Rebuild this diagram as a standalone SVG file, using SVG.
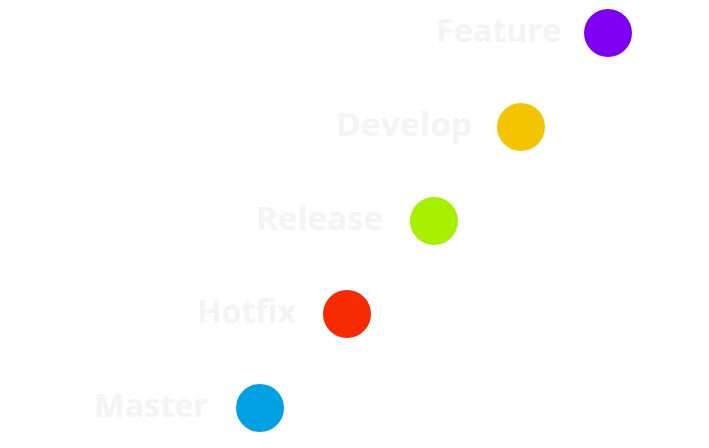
<svg xmlns="http://www.w3.org/2000/svg" width="709" height="448" viewBox="0 0 709 448">
<style>
.lbl{font-family:"Open Sans","Noto Sans","DejaVu Sans",sans-serif;font-weight:700;font-size:33px;fill:#f4f4f4;text-anchor:end}
</style>
<rect width="709" height="448" fill="#ffffff"/>
<g id="connectors"></g>
<g id="feature"><text class="lbl" x="561" y="42" textLength="125" lengthAdjust="spacingAndGlyphs">Feature</text><circle cx="608" cy="33" r="24" fill="#7f00f0"/></g>
<g id="develop"><text class="lbl" x="472" y="136" textLength="136" lengthAdjust="spacingAndGlyphs">Develop</text><circle cx="521" cy="127" r="24" fill="#f4c400"/></g>
<g id="release"><text class="lbl" x="383" y="230" textLength="127" lengthAdjust="spacingAndGlyphs">Release</text><circle cx="434" cy="221" r="24" fill="#a6f000"/></g>
<g id="hotfix"><text class="lbl" x="296" y="323" textLength="99" lengthAdjust="spacingAndGlyphs">Hotfix</text><circle cx="347" cy="314" r="24" fill="#f52a00"/></g>
<g id="master"><text class="lbl" x="208" y="417" textLength="114" lengthAdjust="spacingAndGlyphs">Master</text><circle cx="260" cy="408" r="24" fill="#00a0e3"/></g>
</svg>
